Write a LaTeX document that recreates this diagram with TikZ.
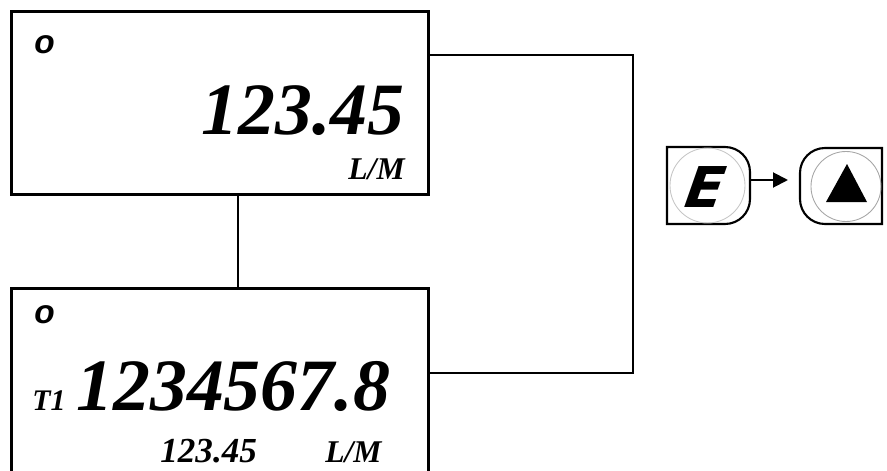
\documentclass[tikz,border=0pt]{standalone}
\usepackage{fontspec}
\usepackage{tikz}
\usetikzlibrary{arrows.meta}
\newfontfamily\lcdfont{Liberation Serif}
\newfontfamily\markfont{Liberation Sans}
\newfontfamily\keyfont{DejaVu Sans}

\begin{document}
\begin{tikzpicture}[
    lcdbox/.style={draw, line width=1.7pt, rectangle, inner sep=0pt},
    wire/.style={line width=1.1pt},
    keyframe/.style={line width=1.2pt},
    bigdigits/.style={inner sep=0pt, font=\lcdfont\bfseries\itshape\fontsize{42}{42}\selectfont},
    unitlabel/.style={inner sep=0pt, font=\lcdfont\bfseries\itshape\fontsize{18}{18}\selectfont},
    modelabel/.style={inner sep=0pt, anchor=base west, font=\markfont\bfseries\itshape\fontsize{19}{19}\selectfont}
]
        \clip (0,0) rectangle (17.74,9.4);

        % Display, rate screen
        \node[lcdbox, minimum width=8.34cm, minimum height=3.66cm] (disp1) at (4.4, 7.34) {};
        \node[bigdigits, anchor=base east] (rate) at (8.1, 6.7) {123.45};
        \node[unitlabel, anchor=base east] (unit1) at (8.1, 5.8) {L/M};

        % Display, totaliser screen
        \node[lcdbox, minimum width=8.34cm, minimum height=4.13cm] (disp2) at (4.4, 1.565) {};
        \node[inner sep=0pt, anchor=base west, font=\lcdfont\bfseries\itshape\fontsize{17}{17}\selectfont] (tot) at (0.64, 1.2) {T1};
        \node[bigdigits, anchor=base west] (total) at (1.52, 1.2) {1234567.8};
        \node[inner sep=0pt, anchor=base west, font=\lcdfont\bfseries\itshape\fontsize{20}{20}\selectfont] (rate2) at (3.2, 0.16) {123.45};
        \node[unitlabel, anchor=base west] (unit2) at (6.5, 0.16) {L/M};

        % mode marks
        \foreach \y/\n in {8.34/m1, 2.94/m2} {
            \node[modelabel] (\n) at (0.68, \y) {o};
        }

        % Connectors
        \coordinate (mid) at (4.76, 0);
        \draw[wire] (disp1.south -| mid) -- (disp2.north -| mid);
        \coordinate (r1) at (12.66, 8.3);
        \coordinate (r2) at (12.66, 1.94);
        \draw[wire] (disp1.east |- r1) -- (r1) -- (r2) -- (disp2.east |- r2);

        % Key E
        \draw[keyframe] (13.34, 4.92) -- (13.34, 6.46)
            [rounded corners=0.5cm] -- (15.0, 6.46) -- (15.0, 4.92)
            [sharp corners] -- cycle;
        \draw[gray!45, line width=0.5pt] (14.15, 5.69) circle (0.75);
        \node[inner sep=0pt, xslant=0.35, font=\keyfont\bfseries\fontsize{32}{32}\selectfont] (ekey) at (14.12, 5.66) {E};
        \coordinate (eout) at (15.0, 5.8);

        % Key up
        \draw[keyframe] (17.64, 4.92) -- (17.64, 6.44)
            [rounded corners=0.5cm] -- (16.0, 6.44) -- (16.0, 4.92)
            [sharp corners] -- cycle;
        \draw[gray!70, line width=0.5pt] (16.92, 5.67) circle (0.7);
        \fill (16.94, 6.12) -- (16.52, 5.36) -- (17.34, 5.36) -- cycle;
        \coordinate (upin) at (15.76, 5.8);

        \draw[wire, -{Triangle[length=0.3cm, width=0.3cm]}] (eout) -- (upin);

\end{tikzpicture}
\end{document}
